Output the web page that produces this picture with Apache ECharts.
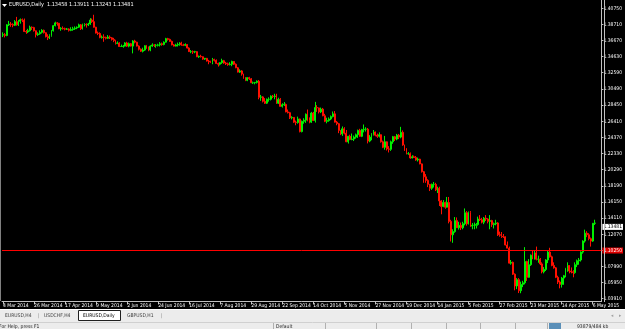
<!DOCTYPE html>
<html><head><meta charset="utf-8">
<script src="https://cdn.jsdelivr.net/npm/echarts@6/dist/echarts.min.js"></script>
<style>html,body{margin:0;padding:0;background:#000;overflow:hidden}#c{width:625px;height:329px}</style>
</head><body><div id="c"></div>
<script>
const symbolName = 'EURUSD,Daily';
const tickLabels = ['4 Mar 2014','26 Mar 2014','17 Apr 2014','9 May 2014','2 Jun 2014','24 Jun 2014','16 Jul 2014','7 Aug 2014','29 Aug 2014','22 Sep 2014','14 Oct 2014','5 Nov 2014','27 Nov 2014','19 Dec 2014','14 Jan 2015','5 Feb 2015','27 Feb 2015','23 Mar 2015','14 Apr 2015','6 May 2015'];
const priceLabels = ['1.03910','1.05950','1.07990','1.10030','1.12070','1.14110','1.16150','1.18190','1.20290','1.22330','1.24370','1.26410','1.28450','1.30490','1.32590','1.34630','1.36670','1.38710','1.40750'];
const tabs = ['EURUSD,H4','USDCHF,H4','EURUSD,Daily','GBPUSD,H1'];
const levelLine = 1.1025;

const open = [
1.3735,1.3740,1.3730,1.3865,1.3875,1.3870,1.3860,1.3905,1.3865,1.3910,
1.3930,1.3925,1.3780,1.3775,1.3790,1.3835,1.3830,1.3790,1.3740,1.3750,
1.3770,1.3795,1.3765,1.3715,1.3700,1.3730,1.3790,1.3855,1.3890,1.3885,
1.3815,1.3820,1.3815,1.3810,1.3812,1.3795,1.3805,1.3815,1.3825,1.3835,
1.3865,1.3815,1.3870,1.3870,1.3865,1.3875,1.3925,1.3905,1.3835,1.3760,
1.3755,1.3705,1.3710,1.3705,1.3695,1.3710,1.3700,1.3680,1.3665,1.3630,
1.3635,1.3590,1.3590,1.3595,1.3635,1.3595,1.3625,1.3595,1.3660,1.3645,
1.3595,1.3555,1.3530,1.3545,1.3600,1.3570,1.3545,1.3595,1.3610,1.3605,
1.3605,1.3610,1.3625,1.3615,1.3645,1.3690,1.3680,1.3655,1.3610,1.3595,
1.3610,1.3615,1.3635,1.3610,1.3605,1.3615,1.3570,1.3525,1.3525,1.3520,
1.3525,1.3460,1.3465,1.3460,1.3430,1.3440,1.3405,1.3395,1.3390,1.3425,
1.3415,1.3375,1.3365,1.3385,1.3410,1.3380,1.3370,1.3360,1.3365,1.3400,
1.3365,1.3320,1.3265,1.3280,1.3240,1.3190,1.3160,1.3195,1.3180,1.3130,
1.3130,1.3135,1.3150,1.2945,1.2950,1.2895,1.2870,1.2920,1.2920,1.2960,
1.2955,1.2960,1.2870,1.2920,1.2830,1.2850,1.2855,1.2760,1.2750,1.2685,
1.2690,1.2630,1.2625,1.2670,1.2510,1.2640,1.2655,1.2730,1.2650,1.2630,
1.2745,1.2650,1.2815,1.2810,1.2760,1.2795,1.2710,1.2640,1.2650,1.2670,
1.2700,1.2735,1.2630,1.2610,1.2525,1.2480,1.2545,1.2490,1.2380,1.2450,
1.2410,1.2415,1.2440,1.2470,1.2525,1.2450,1.2535,1.2540,1.2540,1.2390,
1.2440,1.2475,1.2505,1.2465,1.2450,1.2470,1.2380,1.2310,1.2380,1.2290,
1.2285,1.2380,1.2445,1.2415,1.2465,1.2440,1.2500,1.2340,1.2290,1.2230,
1.2230,1.2175,1.2190,1.2180,1.2150,1.2160,1.2100,1.2000,1.1935,1.1890,
1.1840,1.1790,1.1840,1.1840,1.1770,1.1790,1.1630,1.1560,1.1610,1.1550,
1.1610,1.1370,1.1200,1.1240,1.1380,1.1290,1.1320,1.1290,1.1340,1.1480,
1.1340,1.1480,1.1310,1.1320,1.1320,1.1330,1.1400,1.1390,1.1360,1.1410,
1.1400,1.1370,1.1380,1.1330,1.1340,1.1350,1.1200,1.1195,1.1180,1.1175,
1.1070,1.1030,1.0840,1.0850,1.0700,1.0550,1.0630,1.0490,1.0570,1.0590,
1.0860,1.0660,1.0820,1.0940,1.0920,1.0970,1.0890,1.0890,1.0830,1.0730,
1.0760,1.0880,1.0980,1.0920,1.0810,1.0780,1.0660,1.0600,1.0570,1.0650,
1.0680,1.0770,1.0810,1.0740,1.0730,1.0720,1.0820,1.0870,1.0880,1.0980,
1.1120,1.1220,1.1200,1.1150,1.1120,1.13458];

const high = [
1.3770,1.3760,1.3872,1.3915,1.3900,1.3885,1.3925,1.3966,1.3925,1.3945,
1.3945,1.3945,1.3800,1.3815,1.3855,1.3845,1.3840,1.3795,1.3770,1.3795,
1.3810,1.3805,1.3770,1.3745,1.3745,1.3800,1.3860,1.3905,1.3900,1.3890,
1.3835,1.3845,1.3830,1.3825,1.3820,1.3835,1.3840,1.3845,1.3845,1.3880,
1.3875,1.3880,1.3885,1.3885,1.3890,1.3950,1.3945,1.3993,1.3840,1.3780,
1.3770,1.3730,1.3745,1.3715,1.3735,1.3730,1.3710,1.3700,1.3675,1.3655,
1.3645,1.3615,1.3610,1.3645,1.3650,1.3640,1.3635,1.3670,1.3675,1.3650,
1.3605,1.3565,1.3575,1.3605,1.3610,1.3590,1.3605,1.3630,1.3620,1.3620,
1.3625,1.3645,1.3640,1.3655,1.3700,1.3700,1.3690,1.3665,1.3620,1.3625,
1.3640,1.3645,1.3650,1.3625,1.3630,1.3620,1.3580,1.3545,1.3540,1.3535,
1.3530,1.3475,1.3485,1.3465,1.3445,1.3445,1.3420,1.3410,1.3445,1.3435,
1.3425,1.3385,1.3390,1.3435,1.3420,1.3395,1.3385,1.3390,1.3410,1.3405,
1.3375,1.3330,1.3300,1.3290,1.3245,1.3200,1.3200,1.3205,1.3190,1.3145,
1.3140,1.3160,1.3165,1.2975,1.2960,1.2935,1.2930,1.2945,1.2970,1.2975,
1.2990,1.2990,1.2940,1.2935,1.2870,1.2885,1.2865,1.2790,1.2760,1.2705,
1.2695,1.2650,1.2700,1.2675,1.2650,1.2680,1.2740,1.2790,1.2690,1.2760,
1.2760,1.2887,1.2845,1.2815,1.2815,1.2810,1.2735,1.2685,1.2690,1.2715,
1.2765,1.2770,1.2645,1.2620,1.2530,1.2575,1.2565,1.2530,1.2455,1.2470,
1.2485,1.2460,1.2485,1.2535,1.2545,1.2545,1.2600,1.2565,1.2555,1.2465,
1.2490,1.2530,1.2510,1.2485,1.2500,1.2475,1.2395,1.2455,1.2385,1.2325,
1.2395,1.2455,1.2455,1.2480,1.2480,1.2570,1.2525,1.2345,1.2300,1.2250,
1.2245,1.2210,1.2205,1.2200,1.2180,1.2165,1.2105,1.2010,1.1970,1.1905,
1.1845,1.1850,1.1870,1.1860,1.1810,1.1810,1.1640,1.1640,1.1620,1.1680,
1.1680,1.1390,1.1270,1.1425,1.1420,1.1365,1.1355,1.1365,1.1534,1.1500,
1.1495,1.1500,1.1350,1.1355,1.1350,1.1430,1.1450,1.1415,1.1425,1.1450,
1.1410,1.1450,1.1390,1.1355,1.1390,1.1360,1.1240,1.1235,1.1210,1.1180,
1.1115,1.1050,1.0880,1.0860,1.0710,1.0650,1.0650,1.0605,1.0615,1.1043,
1.0870,1.0890,1.0950,1.1000,1.0995,1.1050,1.0935,1.0905,1.0850,1.0790,
1.0890,1.1000,1.1035,1.0935,1.0850,1.0790,1.0680,1.0620,1.0665,1.0690,
1.0780,1.0850,1.0815,1.0785,1.0750,1.0850,1.0885,1.0905,1.0990,1.1130,
1.1265,1.1245,1.1220,1.1165,1.1350,1.13911];

const low = [
1.3710,1.3705,1.3720,1.3850,1.3840,1.3835,1.3850,1.3855,1.3850,1.3880,
1.3900,1.3775,1.3750,1.3760,1.3780,1.3800,1.3780,1.3705,1.3725,1.3740,
1.3755,1.3755,1.3705,1.3672,1.3685,1.3715,1.3780,1.3845,1.3855,1.3810,
1.3790,1.3805,1.3795,1.3800,1.3780,1.3785,1.3790,1.3800,1.3810,1.3825,
1.3800,1.3805,1.3845,1.3830,1.3850,1.3865,1.3890,1.3830,1.3755,1.3735,
1.3695,1.3690,1.3650,1.3680,1.3685,1.3685,1.3665,1.3645,1.3615,1.3620,
1.3585,1.3585,1.3575,1.3590,1.3585,1.3580,1.3590,1.3503,1.3630,1.3590,
1.3540,1.3520,1.3515,1.3535,1.3560,1.3530,1.3530,1.3585,1.3585,1.3575,
1.3590,1.3590,1.3600,1.3605,1.3640,1.3665,1.3650,1.3605,1.3590,1.3590,
1.3590,1.3600,1.3600,1.3595,1.3595,1.3565,1.3520,1.3505,1.3495,1.3505,
1.3455,1.3445,1.3450,1.3420,1.3420,1.3400,1.3365,1.3380,1.3365,1.3400,
1.3370,1.3335,1.3350,1.3370,1.3370,1.3355,1.3345,1.3350,1.3340,1.3355,
1.3315,1.3260,1.3255,1.3220,1.3180,1.3150,1.3150,1.3165,1.3125,1.3115,
1.3110,1.3120,1.2920,1.2900,1.2880,1.2860,1.2860,1.2890,1.2905,1.2935,
1.2920,1.2860,1.2860,1.2825,1.2815,1.2835,1.2755,1.2740,1.2670,1.2665,
1.2620,1.2590,1.2610,1.2500,1.2500,1.2610,1.2620,1.2640,1.2615,1.2620,
1.2645,1.2625,1.2760,1.2740,1.2745,1.2705,1.2630,1.2615,1.2635,1.2655,
1.2690,1.2625,1.2590,1.2490,1.2465,1.2455,1.2475,1.2375,1.2358,1.2400,
1.2400,1.2390,1.2420,1.2430,1.2445,1.2440,1.2500,1.2510,1.2360,1.2375,
1.2400,1.2460,1.2450,1.2430,1.2435,1.2370,1.2300,1.2280,1.2270,1.2245,
1.2265,1.2355,1.2390,1.2400,1.2415,1.2425,1.2330,1.2265,1.2220,1.2215,
1.2165,1.2170,1.2175,1.2140,1.2130,1.2095,1.1990,1.1860,1.1860,1.1805,
1.1755,1.1770,1.1800,1.1755,1.1730,1.1565,1.1460,1.1550,1.1530,1.1545,
1.1345,1.1115,1.1098,1.1225,1.1285,1.1265,1.1260,1.1270,1.1320,1.1315,
1.1330,1.1300,1.1270,1.1270,1.1280,1.1315,1.1375,1.1345,1.1335,1.1375,
1.1345,1.1270,1.1300,1.1280,1.1320,1.1185,1.1175,1.1160,1.1160,1.1065,
1.1030,1.0835,1.0820,1.0690,1.0495,1.0510,1.0460,1.0458,1.0535,1.0570,
1.0615,1.0655,1.0805,1.0890,1.0885,1.0875,1.0845,1.0815,1.0710,1.0710,
1.0740,1.0840,1.0910,1.0800,1.0770,1.0650,1.0575,1.0520,1.0530,1.0565,
1.0660,1.0730,1.0710,1.0710,1.0660,1.0705,1.0790,1.0820,1.0860,1.0960,
1.1100,1.1170,1.1130,1.1050,1.1110,1.13243];

const close = [
1.3740,1.3730,1.3865,1.3875,1.3870,1.3860,1.3905,1.3865,1.3910,1.3930,
1.3925,1.3780,1.3775,1.3790,1.3835,1.3830,1.3790,1.3740,1.3750,1.3770,
1.3795,1.3765,1.3715,1.3700,1.3730,1.3790,1.3855,1.3890,1.3885,1.3815,
1.3820,1.3815,1.3810,1.3812,1.3795,1.3805,1.3815,1.3825,1.3835,1.3865,
1.3815,1.3870,1.3870,1.3865,1.3875,1.3925,1.3905,1.3835,1.3760,1.3755,
1.3705,1.3710,1.3705,1.3695,1.3710,1.3700,1.3680,1.3665,1.3630,1.3635,
1.3590,1.3590,1.3595,1.3635,1.3595,1.3625,1.3595,1.3660,1.3645,1.3595,
1.3555,1.3530,1.3545,1.3600,1.3570,1.3545,1.3595,1.3610,1.3605,1.3605,
1.3610,1.3625,1.3615,1.3645,1.3690,1.3680,1.3655,1.3610,1.3595,1.3610,
1.3615,1.3635,1.3610,1.3605,1.3615,1.3570,1.3525,1.3525,1.3520,1.3525,
1.3460,1.3465,1.3460,1.3430,1.3440,1.3405,1.3395,1.3390,1.3425,1.3415,
1.3375,1.3365,1.3385,1.3410,1.3380,1.3370,1.3360,1.3365,1.3400,1.3365,
1.3320,1.3265,1.3280,1.3240,1.3190,1.3160,1.3195,1.3180,1.3130,1.3130,
1.3135,1.3150,1.2945,1.2950,1.2895,1.2870,1.2920,1.2920,1.2960,1.2955,
1.2960,1.2870,1.2920,1.2830,1.2850,1.2855,1.2760,1.2750,1.2685,1.2690,
1.2630,1.2625,1.2670,1.2510,1.2640,1.2655,1.2730,1.2650,1.2630,1.2745,
1.2650,1.2815,1.2810,1.2760,1.2795,1.2710,1.2640,1.2650,1.2670,1.2700,
1.2735,1.2630,1.2610,1.2525,1.2480,1.2545,1.2490,1.2380,1.2450,1.2410,
1.2415,1.2440,1.2470,1.2525,1.2450,1.2535,1.2540,1.2540,1.2390,1.2440,
1.2475,1.2505,1.2465,1.2450,1.2470,1.2380,1.2310,1.2380,1.2290,1.2285,
1.2380,1.2445,1.2415,1.2465,1.2440,1.2500,1.2340,1.2290,1.2230,1.2230,
1.2175,1.2190,1.2180,1.2150,1.2160,1.2100,1.2000,1.1935,1.1890,1.1840,
1.1790,1.1840,1.1840,1.1770,1.1790,1.1630,1.1560,1.1610,1.1550,1.1610,
1.1370,1.1200,1.1240,1.1380,1.1290,1.1320,1.1290,1.1340,1.1480,1.1340,
1.1480,1.1310,1.1320,1.1320,1.1330,1.1400,1.1390,1.1360,1.1410,1.1400,
1.1370,1.1380,1.1330,1.1340,1.1350,1.1200,1.1195,1.1180,1.1175,1.1070,
1.1030,1.0840,1.0850,1.0700,1.0550,1.0630,1.0490,1.0570,1.0590,1.0860,
1.0660,1.0820,1.0940,1.0920,1.0970,1.0890,1.0890,1.0830,1.0730,1.0760,
1.0880,1.0980,1.0920,1.0810,1.0780,1.0660,1.0600,1.0570,1.0650,1.0680,
1.0770,1.0810,1.0740,1.0730,1.0720,1.0820,1.0870,1.0880,1.0980,1.1120,
1.1220,1.1200,1.1150,1.1120,1.13458,1.13481];

const SLOTS = 309;
const FONT = "'Liberation Sans Narrow','DejaVu Sans Condensed','Liberation Sans',sans-serif";
const BULL = '#00f000', BEAR = '#ff1000';

const cats = Array.from({length: SLOTS}, (_, i) => String(i));
const ohlc = close.map((c, i) => [open[i], c, low[i], high[i]]);
const last = close.length - 1;
const header = symbolName + '  ' + [open[last], high[last], low[last], close[last]].map(v => v.toFixed(5)).join(' ');

const chart = echarts.init(document.getElementById('c'), null, {renderer: 'canvas'});

const graphics = [
  {type:'line', shape:{x1:0.5,y1:0,x2:0.5,y2:301}, style:{stroke:'#808080', lineWidth:1}, z:10},
  {type:'line', shape:{x1:604.5,y1:0,x2:604.5,y2:302}, style:{stroke:'#c0c0c0', lineWidth:1}, z:10},
  {type:'polygon', shape:{points:[[2,4],[7,4],[4.5,7]]}, style:{fill:'#ffffff'}, z:10},
  {type:'text', x:9, y:2, style:{text: header, fill:'#ffffff', font:'5.5px ' + FONT}, z:10},
  {type:'rect', shape:{x:0,y:309,width:625,height:13}, style:{fill:'#ececec'}, z:10},
  {type:'line', shape:{x1:0,y1:309.5,x2:625,y2:309.5}, style:{stroke:'#ffffff', lineWidth:1}, z:11},
  {type:'rect', shape:{x:78.5,y:310.5,width:42,height:10}, style:{fill:'#ffffff', stroke:'#202020', lineWidth:1}, z:11},
  {type:'text', x:5, y:313.5, style:{text: tabs[0], fill:'#404040', font:'5px ' + FONT}, z:12},
  {type:'text', x:38, y:313.5, style:{text:'|', fill:'#808080', font:'5px ' + FONT}, z:12},
  {type:'text', x:44, y:313.5, style:{text: tabs[1], fill:'#404040', font:'5px ' + FONT}, z:12},
  {type:'text', x:83, y:313.5, style:{text: tabs[2], fill:'#000000', font:'5px ' + FONT}, z:12},
  {type:'text', x:127, y:313.5, style:{text: tabs[3], fill:'#404040', font:'5px ' + FONT}, z:12},
  {type:'text', x:161, y:313.5, style:{text:'|', fill:'#808080', font:'5px ' + FONT}, z:12},
  {type:'text', x:611, y:313.5, style:{text:'◂', fill:'#a0a0a0', font:'5px ' + FONT}, z:12},
  {type:'text', x:619, y:313.5, style:{text:'▸', fill:'#a0a0a0', font:'5px ' + FONT}, z:12},
  {type:'rect', shape:{x:0,y:322,width:625,height:7}, style:{fill:'#ececec'}, z:10},
  {type:'line', shape:{x1:0,y1:322.5,x2:625,y2:322.5}, style:{stroke:'#d0d0d0', lineWidth:1}, z:11},
  {type:'text', x:-1, y:324, style:{text:'For Help, press F1', fill:'#202020', font:'5px ' + FONT}, z:12},
  {type:'text', x:276, y:324, style:{text:'Default', fill:'#202020', font:'5px ' + FONT}, z:12},
  {type:'text', x:577, y:324, style:{text:'93879/484 kb', fill:'#202020', font:'5px ' + FONT}, z:12},
  {type:'rect', shape:{x:549,y:323,width:12,height:6}, style:{fill:'#5a8fb8'}, z:12}
];
[273, 325, 376, 411, 446, 480, 515, 547].forEach(x => {
  graphics.push({type:'line', shape:{x1:x+0.5,y1:323,x2:x+0.5,y2:329}, style:{stroke:'#b0b0b0', lineWidth:1}, z:12});
});

chart.setOption({
  animation: false,
  backgroundColor: '#000000',
  grid: {left: -3, right: 21, top: 0, bottom: 27.5},
  xAxis: {
    type: 'category', data: cats, boundaryGap: true,
    axisLine: {show: true, lineStyle: {color: '#c0c0c0', width: 1}},
    axisTick: {show: true, alignWithLabel: true, length: 3, interval: (i) => i % 16 === 0, lineStyle: {color: '#c0c0c0'}},
    axisLabel: {show: true, interval: (i) => i % 16 === 0, align: 'left', margin: 2,
      color: '#ffffff', fontSize: 5, fontFamily: FONT,
      formatter: (v, i) => (i % 16 === 0 && tickLabels[i / 16]) ? tickLabels[i / 16] : ''},
    splitLine: {show: false}
  },
  yAxis: {
    type: 'value', position: 'right', scale: true,
    min: 1.03529, max: 1.41804,
    axisLine: {show: true, lineStyle: {color: '#c0c0c0', width: 1}},
    axisTick: {show: true, length: 2, lineStyle: {color: '#c0c0c0'}, customValues: priceLabels.map(Number)},
    axisLabel: {show: true, margin: 2, color: '#ffffff', fontSize: 5, fontFamily: FONT,
      customValues: priceLabels.map(Number), formatter: (v) => v.toFixed(5)},
    splitLine: {show: false}
  },
  series: [{
    type: 'candlestick', data: ohlc, barWidth: 1.4, large: false,
    itemStyle: {color: BULL, color0: BEAR, borderColor: BULL, borderColor0: BEAR, borderColorDoji: BULL, borderWidth: 1},
    markLine: {
      silent: true, symbol: 'none', animation: false,
      data: [
        {yAxis: levelLine, lineStyle: {color: '#ff0000', width: 1, type: 'solid'},
         label: {show: true, position: 'end', distance: 1, formatter: levelLine.toFixed(5),
           color: '#ffffff', backgroundColor: '#e00000', fontSize: 5, fontFamily: FONT, padding: [1, 1, 0, 1]}},
        {yAxis: close[last], lineStyle: {color: 'rgba(0,0,0,0)', width: 1, type: 'solid'},
         label: {show: true, position: 'end', distance: 1, formatter: close[last].toFixed(5),
           color: '#000000', backgroundColor: '#ffffff', fontSize: 5, fontFamily: FONT, padding: [1, 1, 0, 1]}}
      ]
    }
  }],
  graphic: graphics
});
</script></body></html>
